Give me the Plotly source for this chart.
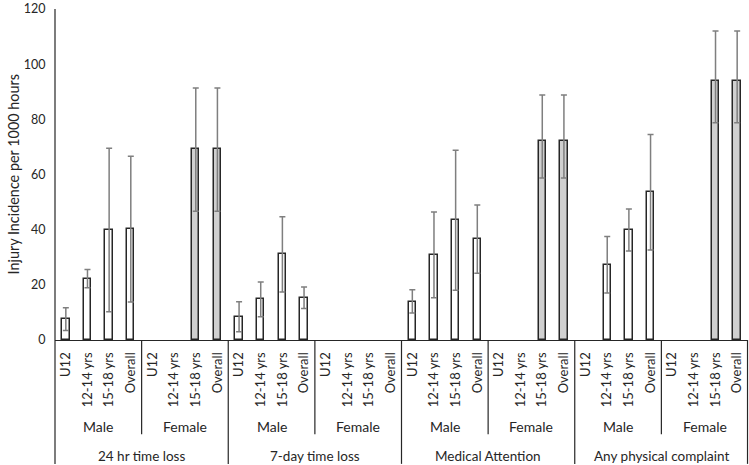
import plotly.graph_objects as go

outcomes = ["24 hr time loss", "7-day time loss", "Medical Attention", "Any physical complaint"]
sexes = ["Male", "Female"]
ages = ["U12", "12-14 yrs", "15-18 yrs", "Overall"]

# Injury incidence per 1000 hours (rate, upper CI, lower CI) per outcome x age
male_rate = [[7.5, 22.2, 39.8, 40.1],
             [8.4, 14.7, 31.1, 15.2],
             [13.9, 30.8, 43.4, 36.5],
             [None, 27.2, 40.0, 53.5]]
male_upper = [[11.7, 25.6, 69.5, 66.6],
              [13.9, 21.0, 44.7, 19.2],
              [18.2, 46.4, 68.8, 48.9],
              [None, 37.5, 47.5, 74.5]]
male_lower = [[3.4, 18.9, 10.2, 13.8],
              [3.0, 8.4, 17.4, 11.4],
              [9.8, 15.3, 18.0, 24.2],
              [None, 17.0, 32.3, 32.6]]
female_rate = [[None, None, 69.2, 69.2],
               [None, None, None, None],
               [None, None, 72.1, 72.1],
               [None, None, 93.9, 93.9]]
female_upper = [[None, None, 91.4, 91.4],
                [None, None, None, None],
                [None, None, 88.8, 88.8],
                [None, None, 112.0, 112.0]]
female_lower = [[None, None, 46.7, 46.7],
                [None, None, None, None],
                [None, None, 58.7, 58.7],
                [None, None, 78.8, 78.8]]

FONT = "Lato, 'Open Sans', sans-serif"
TXT = "#262626"

fig = go.Figure()

series = [("Male", 0, male_rate, male_upper, male_lower, "white"),
          ("Female", 1, female_rate, female_upper, female_lower, "rgb(208,208,208)")]

tickvals, ticktext = [], []
for o in range(len(outcomes)):
    for s in range(len(sexes)):
        for a in range(len(ages)):
            tickvals.append(o * 8 + s * 4 + a)
            ticktext.append(ages[a])

for name, s, rate, up, lo, color in series:
    xs, ys, ep, em = [], [], [], []
    for o in range(len(outcomes)):
        for a in range(len(ages)):
            v = rate[o][a]
            if v is None:
                continue
            xs.append(o * 8 + s * 4 + a)
            ys.append(v)
            ep.append(up[o][a] - v)
            em.append(v - lo[o][a])
    fig.add_trace(go.Bar(
        x=xs, y=ys, name=name, width=0.34,
        marker=dict(color=color, line=dict(color="#262626", width=1.5)),
        error_y=dict(type="data", symmetric=False, array=ep, arrayminus=em,
                     color="#7f7f7f", thickness=1.5, width=3),
        showlegend=False,
    ))

H = 334.0
shapes = []
# left and right frame lines of the category area
shapes.append(dict(type="line", xref="paper", yref="paper", x0=0, x1=0, y0=1, y1=-125 / H,
                   line=dict(color="#262626", width=1.2)))
shapes.append(dict(type="line", xref="paper", yref="paper", x0=0.9993, x1=0.9993, y0=0, y1=-125 / H,
                   line=dict(color="#262626", width=1.2)))
for o in range(len(outcomes)):
    # sex separator
    shapes.append(dict(type="line", xref="x", yref="paper", x0=o * 8 + 3.5, x1=o * 8 + 3.5,
                       y0=0, y1=-95 / H, line=dict(color="#262626", width=1.2)))
    if o > 0:
        shapes.append(dict(type="line", xref="x", yref="paper", x0=o * 8 - 0.5, x1=o * 8 - 0.5,
                           y0=0, y1=-125 / H, line=dict(color="#262626", width=1.2)))

annotations = []
for o in range(len(outcomes)):
    for s in range(len(sexes)):
        annotations.append(dict(x=o * 8 + s * 4 + 1.5, y=-87 / H, xref="x", yref="paper",
                                xanchor="center", yanchor="middle",
                                text=sexes[s], showarrow=False,
                                font=dict(size=14, color=TXT, family=FONT)))
    annotations.append(dict(x=o * 8 + 3.5, y=-117 / H, xref="x", yref="paper",
                            xanchor="center", yanchor="middle",
                            text=outcomes[o], showarrow=False,
                            font=dict(size=13.5, color=TXT, family=FONT)))
annotations.append(dict(x=-42 / 693, y=0.5, xref="paper", yref="paper",
                        xanchor="center", yanchor="middle",
                        text="Injury Incidence per 1000 hours", textangle=-90, showarrow=False,
                        font=dict(size=14.4, color=TXT, family=FONT)))

fig.update_layout(
    width=749, height=465,
    margin=dict(l=55, r=1, t=6, b=125),
    plot_bgcolor="white", paper_bgcolor="white",
    bargap=0,
    shapes=shapes, annotations=annotations,
    font=dict(family=FONT, color=TXT, size=12),
    xaxis=dict(range=[-0.5, 31.5], tickmode="array", tickvals=tickvals, ticktext=ticktext,
               tickangle=-90, showgrid=False, zeroline=False, showline=True,
               linecolor="#262626", linewidth=1.2, ticks="outside", ticklen=6,
               tickcolor="rgba(0,0,0,0)", ticklabeloverflow="allow",
               tickfont=dict(size=13, color=TXT, family=FONT)),
    yaxis=dict(range=[0, 120], dtick=20, showgrid=False, zeroline=False, showline=False,
               ticks="outside", ticklen=6, tickcolor="rgba(0,0,0,0)", ticklabeloverflow="allow",
               tickfont=dict(size=12.5, color=TXT, family=FONT)),
)

fig.write_html("out.html", post_script="document.body.style.margin='0';",
               config={"displayModeBar": False})
